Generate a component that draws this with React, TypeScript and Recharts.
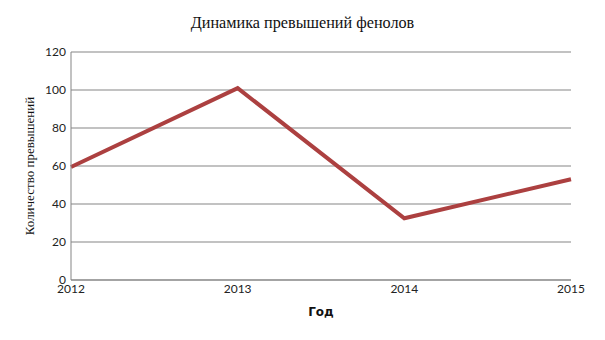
import { LineChart, Line, XAxis, YAxis, CartesianGrid, Label } from 'recharts';

const years = ['2012', '2013', '2014', '2015'];
const exceedances = [59.5, 101, 32.5, 53];
const yTicks = [0, 20, 40, 60, 80, 100, 120];

const chartData = years.map((year, i) => ({ year, count: exceedances[i] }));

const tickStyle = { fill: '#222', fontSize: 12, fontFamily: 'Lato, sans-serif' };

export default function App() {
  return (
    <div style={{ position: 'absolute', left: 0, top: 0, width: 605, height: 340, background: '#fff' }}>
      <div
        style={{
          position: 'absolute', left: 0, top: 14, width: 605, textAlign: 'center',
          fontFamily: '"Liberation Serif", serif', fontSize: 16.2, color: '#111',
        }}
      >
        Динамика превышений фенолов
      </div>
      <LineChart width={605} height={340} data={chartData} margin={{ top: 52, right: 34, left: 0, bottom: 0 }}>
        <CartesianGrid vertical={false} stroke="#858585" />
        <XAxis
          dataKey="year"
          height={60}
          tick={tickStyle}
          tickLine={false}
          tickSize={2}
          tickMargin={2}
          axisLine={{ stroke: '#858585' }}
          interval={0}
        >
          <Label
            value="Год"
            position="insideTop"
            offset={27}
            style={{ fill: '#111', fontSize: 12, fontWeight: 700, fontFamily: '"DejaVu Sans", sans-serif' }}
          />
        </XAxis>
        <YAxis
          width={71}
          domain={[0, 120]}
          ticks={yTicks}
          tick={tickStyle}
          tickLine={false}
          tickSize={5}
          tickMargin={0}
          axisLine={{ stroke: '#858585' }}
        >
          <Label
            value="Количество превышений"
            angle={-90}
            position="insideLeft"
            offset={29}
            style={{ textAnchor: 'middle', fill: '#111', fontSize: 13, fontFamily: '"Liberation Serif", serif' }}
          />
        </YAxis>
        <Line
          type="linear"
          dataKey="count"
          stroke="#ac4040"
          strokeWidth={4}
          dot={false}
          isAnimationActive={false}
        />
      </LineChart>
    </div>
  );
}
